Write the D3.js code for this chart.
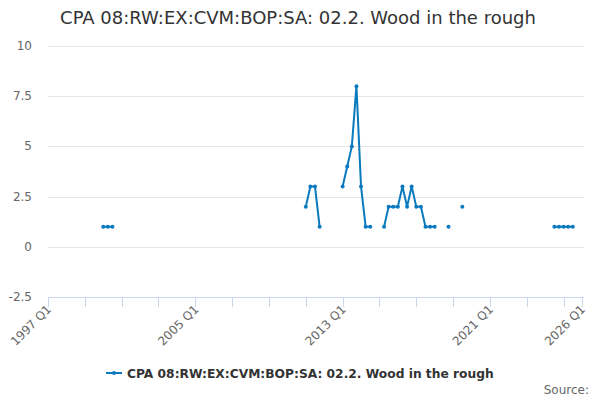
<!DOCTYPE html>
<html>
<head>
<meta charset="utf-8">
<script src="https://cdn.jsdelivr.net/npm/d3@7"></script>
<style>
  body { margin: 0; background: #fff; }
  svg { font-family: "DejaVu Sans", sans-serif; }
</style>
</head>
<body>
<div class="chart"></div>
<script>
// quarters that have a value; everything else in the range is a gap
var periods = [
  "2000 Q1", "2000 Q2", "2000 Q3",
  "2011 Q1", "2011 Q2", "2011 Q3", "2011 Q4",
  "2013 Q1", "2013 Q2", "2013 Q3", "2013 Q4", "2014 Q1", "2014 Q2", "2014 Q3",
  "2015 Q2", "2015 Q3", "2015 Q4", "2016 Q1", "2016 Q2", "2016 Q3", "2016 Q4",
  "2017 Q1", "2017 Q2", "2017 Q3", "2017 Q4", "2018 Q1",
  "2018 Q4",
  "2019 Q3",
  "2024 Q3", "2024 Q4", "2025 Q1", "2025 Q2", "2025 Q3"
];
var values = [
  1, 1, 1,
  2, 3, 3, 1,
  3, 4, 5, 8, 3, 1, 1,
  1, 2, 2, 2, 3, 2, 3,
  2, 2, 1, 1, 1,
  1,
  2,
  1, 1, 1, 1, 1
];
var yTicks = [-2.5, 0, 2.5, 5, 7.5, 10];
var xLabels = ["1997 Q1", "2005 Q1", "2013 Q1", "2021 Q1", "2026 Q1"];

var firstYear = 1997, lastLabel = "2026 Q1";
var title = "CPA 08:RW:EX:CVM:BOP:SA: 02.2. Wood in the rough";
var color = "#0a7abf";

function qIndex(p) {
  var yr = +p.slice(0, 4), q = +p.slice(6);
  return (yr - firstYear) * 4 + (q - 1);
}

// full quarterly table with nulls for the gaps
var nQ = qIndex(lastLabel) + 1;
var byIdx = {};
periods.forEach(function(p, i) { byIdx[qIndex(p)] = values[i]; });
var rows = d3.range(nQ).map(function(i) {
  return {i: i, v: byIdx[i] === undefined ? null : byIdx[i]};
});

var width = 600, height = 400;
var plotLeft = 48, plotRight = 582, plotTop = 46, plotBottom = 297;

const svg = d3.select(".chart").append("svg")
    .attr("width", width)
    .attr("height", height);

var x = d3.scaleLinear().domain([0, nQ - 1]).range([plotLeft, plotRight]);
var y = d3.scaleLinear().domain([-2.5, 10]).range([plotBottom, plotTop]);

svg.append("text")
    .attr("x", 298).attr("y", 24)
    .attr("text-anchor", "middle")
    .attr("font-size", 18)
    .attr("fill", "#333")
    .text(title);

// grid
svg.append("g").selectAll("line")
  .data(yTicks.filter(function(d) { return d > -2.5; }))
  .join("line")
    .attr("x1", plotLeft).attr("x2", plotRight + 2)
    .attr("y1", d => Math.round(y(d)) + 0.5).attr("y2", d => Math.round(y(d)) + 0.5)
    .attr("stroke", "#e6e6e6");

svg.append("g").selectAll("text")
  .data(yTicks)
  .join("text")
    .attr("x", 32).attr("y", d => y(d) + 4)
    .attr("text-anchor", "end")
    .attr("font-size", 12)
    .attr("fill", "#666")
    .text(d => d);

// x axis
var tickIdx = d3.range(0, nQ, 8).concat([nQ - 1]);
var xa = svg.append("g");
xa.append("line")
    .attr("x1", plotLeft).attr("x2", plotRight + 2)
    .attr("y1", plotBottom + 0.5).attr("y2", plotBottom + 0.5)
    .attr("stroke", "#ccd6eb");
xa.selectAll("line.tick")
  .data(tickIdx)
  .join("line")
    .attr("class", "tick")
    .attr("x1", d => Math.round(x(d)) + 0.5).attr("x2", d => Math.round(x(d)) + 0.5)
    .attr("y1", plotBottom).attr("y2", plotBottom + 10)
    .attr("stroke", "#ccd6eb");
xa.selectAll("text")
  .data(xLabels)
  .join("text")
    .attr("transform", d => "translate(" + (x(qIndex(d)) + 4) + "," + (plotBottom + 13) + ") rotate(-45)")
    .attr("text-anchor", "end")
    .attr("font-size", 12)
    .attr("fill", "#666")
    .text(d => d);

// series
var line = d3.line()
    .defined(d => d.v !== null)
    .x(d => x(d.i))
    .y(d => y(d.v));

svg.append("path")
    .datum(rows)
    .attr("d", line)
    .attr("fill", "none")
    .attr("stroke", color)
    .attr("stroke-width", 2)
    .attr("stroke-linejoin", "round");

svg.append("g").selectAll("circle")
  .data(rows.filter(d => d.v !== null))
  .join("circle")
    .attr("cx", d => x(d.i))
    .attr("cy", d => y(d.v))
    .attr("r", 2)
    .attr("fill", color);

// legend
var lg = svg.append("g").attr("transform", "translate(106,373)");
lg.append("line").attr("x1", 0).attr("x2", 16).attr("y1", 0).attr("y2", 0)
    .attr("stroke", color).attr("stroke-width", 2);
lg.append("circle").attr("cx", 8).attr("cy", 0).attr("r", 2).attr("fill", color);
lg.append("text")
    .attr("x", 21).attr("y", 4.5)
    .attr("font-size", 12.25)
    .attr("font-weight", "bold")
    .attr("fill", "#333")
    .text(title);

svg.append("text")
    .attr("x", 589).attr("y", 394)
    .attr("text-anchor", "end")
    .attr("font-size", 12)
    .attr("fill", "#666")
    .text("Source:");
</script>
</body>
</html>
